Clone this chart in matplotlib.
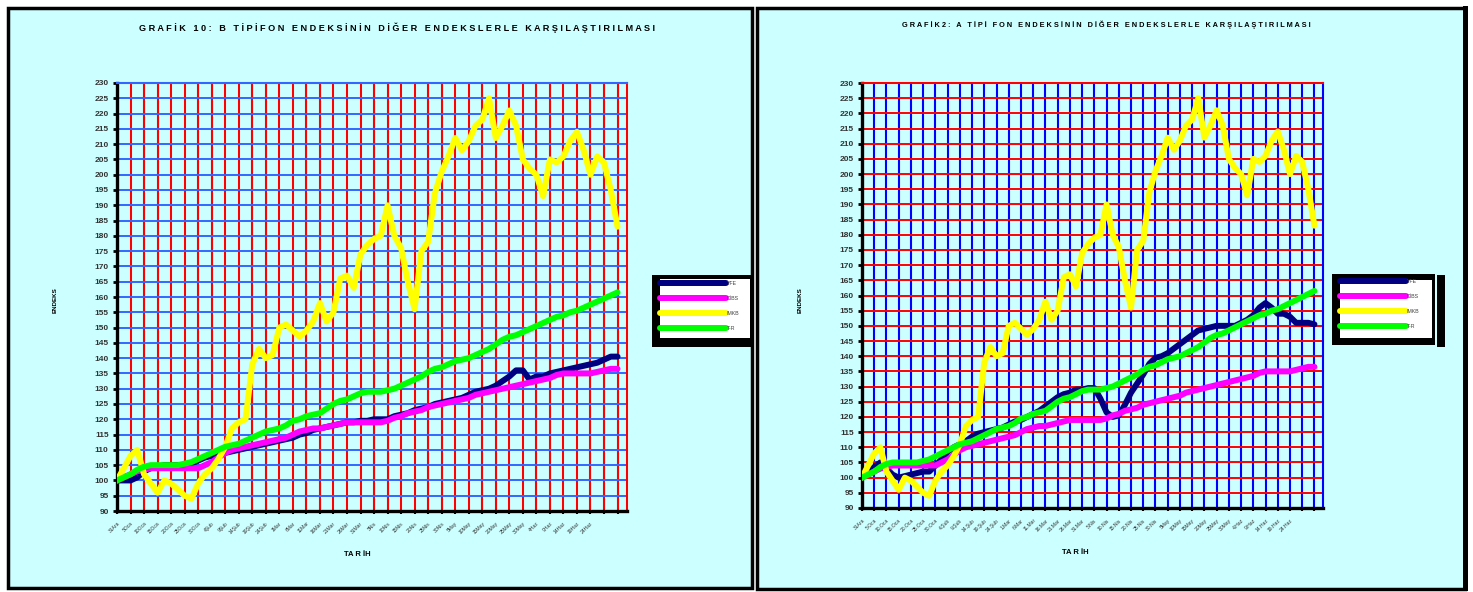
import numpy as np
import matplotlib
matplotlib.use("Agg")
import matplotlib.pyplot as plt
from matplotlib.patches import Rectangle

plt.rcParams['font.family'] = ['Liberation Sans', 'DejaVu Sans']

W, H = 1473, 592

# ---------------- data ----------------
series_names = ["YFE", "DİBS", "IMKB", "T-R"]

tick_labels_left = ["31Ara", "5Oca", "10Oca", "15Oca", "20Oca", "25Oca", "30Oca", "4Şub", "9Şub",
                    "14Şub", "19Şub", "24Şub", "1Mar", "6Mar", "11Mar", "16Mar", "21Mar", "26Mar",
                    "31Mar", "5Nis", "10Nis", "15Nis", "20Nis", "25Nis", "30Nis", "5May", "10May",
                    "15May", "20May", "25May", "30May", "4Haz", "9Haz", "14Haz", "19Haz", "24Haz"]
tick_labels_right = ["31Ara", "5.Oca", "10.Oca", "15.Oca", "20.Oca", "25.Oca", "30.Oca", "4.Şub", "9.Şub",
                     "14.Şub", "19.Şub", "24.Şub", "1.Mar", "6.Mar", "11.Mar", "16.Mar", "21.Mar", "26.Mar",
                     "31.Mar", "5.Nis", "10.Nis", "15.Nis", "20.Nis", "25.Nis", "30.Nis", "5May", "10May",
                     "15May", "20May", "25May", "30May", "4.Haz", "9.Haz", "14.Haz", "19.Haz", "24.Haz"]

imkb = [100, 104, 108, 110, 102, 99, 96, 100, 99, 97,
        95, 94, 99, 102, 104, 107, 111, 117, 119, 120,
        138, 143, 140, 141, 150, 151, 149, 147, 149, 152,
        158, 152, 155, 166, 167, 163, 174, 177, 179, 180,
        190, 180, 176, 165, 156, 175, 178, 194, 201, 206,
        212, 208, 211, 216, 218, 225, 212, 216, 221, 216,
        205, 202, 200, 193, 205, 204, 206, 211, 214, 208,
        200, 206, 204, 195, 183]

tr = [100, 101, 102, 103.5, 104.5, 105, 105, 105, 105, 105,
      105.5, 106, 107, 108, 109, 110, 111, 111.5, 112, 113,
      114, 115, 116, 116.5, 117, 118, 119.5, 120, 121, 121.5,
      122, 123.5, 125, 126, 126.5, 127.5, 128.5, 129, 129, 129,
      129.5, 130, 131, 132, 133, 134, 135.5, 136.5, 137, 138,
      139, 139.5, 140, 141, 142, 143, 144.5, 146, 147, 147.5,
      148.5, 149.5, 150.5, 151.5, 152.5, 153.5, 154, 155, 155.5, 156.5,
      157.5, 158.5, 159.5, 160.5, 161.5]

dibs = [100, 101, 102, 103, 103.5, 104, 104, 104, 104, 104,
        104, 104, 104, 105, 106, 107.5, 109, 110, 110.5, 111,
        111.5, 112, 112.5, 113, 113.5, 114, 115, 116, 116.5, 117,
        117, 117.5, 118, 118.5, 119, 119, 119, 119, 119, 119,
        119.5, 120.5, 121, 122, 122.5, 123, 124, 124.5, 125, 125.5,
        126, 126.5, 127, 128, 128.5, 129, 129.5, 130, 130.5, 131,
        131.5, 132, 132.5, 133, 133.5, 134.5, 135, 135, 135, 135,
        135, 135.5, 136, 136.5, 136.5]

yfe_b = [100, 100, 100, 101, 103, 104, 104.5, 105, 105, 105,
         105, 105.5, 106.5, 107.5, 108, 108.5, 109, 109.5, 110, 110.5,
         111, 111.5, 112, 112.5, 113, 113.5, 114, 115, 115.5, 116.5,
         117, 117.5, 118, 118.5, 119, 119, 119.5, 119.5, 120, 120,
         120, 121, 121.5, 122, 123, 123.5, 124, 125, 125.5, 126,
         126.5, 127, 128, 129, 129.5, 130, 131, 132.5, 134, 136,
         136, 133, 134, 134, 135, 135.5, 136, 136.5, 137, 137.5,
         138, 138.5, 139.5, 140.5, 140.5]

yfe_a = [100, 101.5, 103.5, 105, 103, 101, 100, 100.5, 101, 101.5,
         102, 102, 104, 106, 108.5, 110, 111, 112, 113.5, 114.5,
         115, 115.5, 116, 116.5, 117.5, 118.5, 119, 120, 121, 122,
         123.5, 125, 126.5, 127.5, 128, 129, 129, 129.5, 129.5, 126,
         121.5, 120, 120.5, 124, 128, 131, 134, 137.5, 139.5, 140,
         141, 142.5, 144, 145.5, 147, 148.5, 149, 149.5, 150, 150,
         150, 150, 151, 152, 153.5, 156, 157.5, 156, 154, 154,
         153, 151, 151, 151, 150.5]

title_left = "GRAFİK 10: B TİPİFON ENDEKSİNİN DİĞER ENDEKSLERLE KARŞILAŞTIRILMASI"
title_right = "GRAFİK2: A TİPİ FON ENDEKSİNİN DİĞER ENDEKSLERLE KARŞILAŞTIRILMASI"

colors = ["#000080", "#FF00FF", "#FFFF00", "#00FF00"]
CYAN = "#CCFFFF"


def spaced(s):
    return " ".join(s)


fig = plt.figure(figsize=(W / 100, H / 100), dpi=100)
fig.patch.set_facecolor("white")

bg = fig.add_axes([0, 0, 1, 1], zorder=0)
bg.set_xlim(0, W)
bg.set_ylim(H, 0)
bg.axis("off")

# panels
bg.add_patch(Rectangle((8, 8), 744, 580, fc=CYAN, ec="black", lw=2.5))
bg.add_patch(Rectangle((757, 8), 708, 581, fc=CYAN, ec="black", lw=2.5))
bg.add_patch(Rectangle((1463, 6), 5, 585, fc="black", ec="none"))

# legend boxes
bg.add_patch(Rectangle((652, 275), 100, 72, fc="black", ec="none"))
bg.add_patch(Rectangle((660, 279), 90, 59, fc="white", ec="none"))
bg.add_patch(Rectangle((1332, 274), 103, 71, fc="black", ec="none"))
bg.add_patch(Rectangle((1340, 280), 92, 58, fc="white", ec="none"))
bg.add_patch(Rectangle((1437, 275), 8, 72, fc="black", ec="none"))

# titles and axis labels
bg.text(397, 28, spaced(title_left), ha="center", va="center", fontsize=6.6, fontweight="bold")
bg.text(1106, 25, spaced(title_right), ha="center", va="center", fontsize=5.3, fontweight="bold")
bg.text(55, 300, "ENDEKS", rotation=90, ha="center", va="center", fontsize=4.5, fontweight="bold")
bg.text(800, 300, "ENDEKS", rotation=90, ha="center", va="center", fontsize=4.5, fontweight="bold")
bg.text(357, 555, "TA R İH", ha="center", va="center", fontsize=5.5, fontweight="bold")
bg.text(1075, 552, "TA R İH", ha="center", va="center", fontsize=5.5, fontweight="bold")


def make_chart(px0, px1, py0, py1, labels, yfe, xgrid_color, ygrid_color, legend_xy):
    ax = fig.add_axes([px0 / W, 1 - py1 / H, (px1 - px0) / W, (py1 - py0) / H], zorder=2)
    ax.set_facecolor("none")
    n = len(imkb)
    x = np.arange(n) * 0.5
    lines = []
    for vals, c, name in zip([yfe, dibs, imkb, tr], colors, series_names):
        ln, = ax.plot(x, vals, color=c, lw=4.3, solid_joinstyle="round",
                      solid_capstyle="round", label=name, zorder=3)
        lines.append(ln)
    ax.set_xlim(0, 37.7)
    ax.set_ylim(90, 230)
    ax.set_yticks(np.arange(90, 231, 5))
    ax.set_xticks(np.arange(0, 38))
    ax.set_xticklabels(labels + [""] * (38 - len(labels)), rotation=45, ha="right",
                       rotation_mode="anchor", fontsize=3.6, color="#333333")
    for lab in ax.get_yticklabels():
        lab.set_fontsize(6)
        lab.set_fontweight("bold")
        lab.set_color("#333333")
    ax.grid(axis="x", color=xgrid_color, lw=1.5, zorder=1)
    ax.grid(axis="y", color=ygrid_color, lw=1.4, zorder=1)
    ax.set_axisbelow(True)
    for s in ["left", "bottom"]:
        ax.spines[s].set_linewidth(2.4)
        ax.spines[s].set_color("black")
    ax.spines["top"].set_color(ygrid_color)
    ax.spines["top"].set_linewidth(1.5)
    ax.spines["right"].set_color(xgrid_color)
    ax.spines["right"].set_linewidth(1.5)
    ax.tick_params(axis="y", length=3, width=2, pad=3, color="black")
    ax.tick_params(axis="x", length=2, width=1.5, pad=5, color="black")
    lx, ly = legend_xy
    ax.legend(handles=lines, loc="upper left", bbox_to_anchor=(lx / W, 1 - ly / H),
              bbox_transform=fig.transFigure, frameon=False, fontsize=3.8,
              handlelength=12.5, handletextpad=0.1, labelspacing=1.9, borderpad=0,
              borderaxespad=0, labelcolor="#444444")
    return ax


make_chart(117, 627, 83, 511, tick_labels_left, yfe_b, "#FF0000", "#3366FF", (660, 281))
make_chart(862, 1323, 83, 508, tick_labels_right, yfe_a, "#0000FF", "#FF0000", (1340, 279))

fig.savefig("out.png", dpi=100, facecolor="white")
